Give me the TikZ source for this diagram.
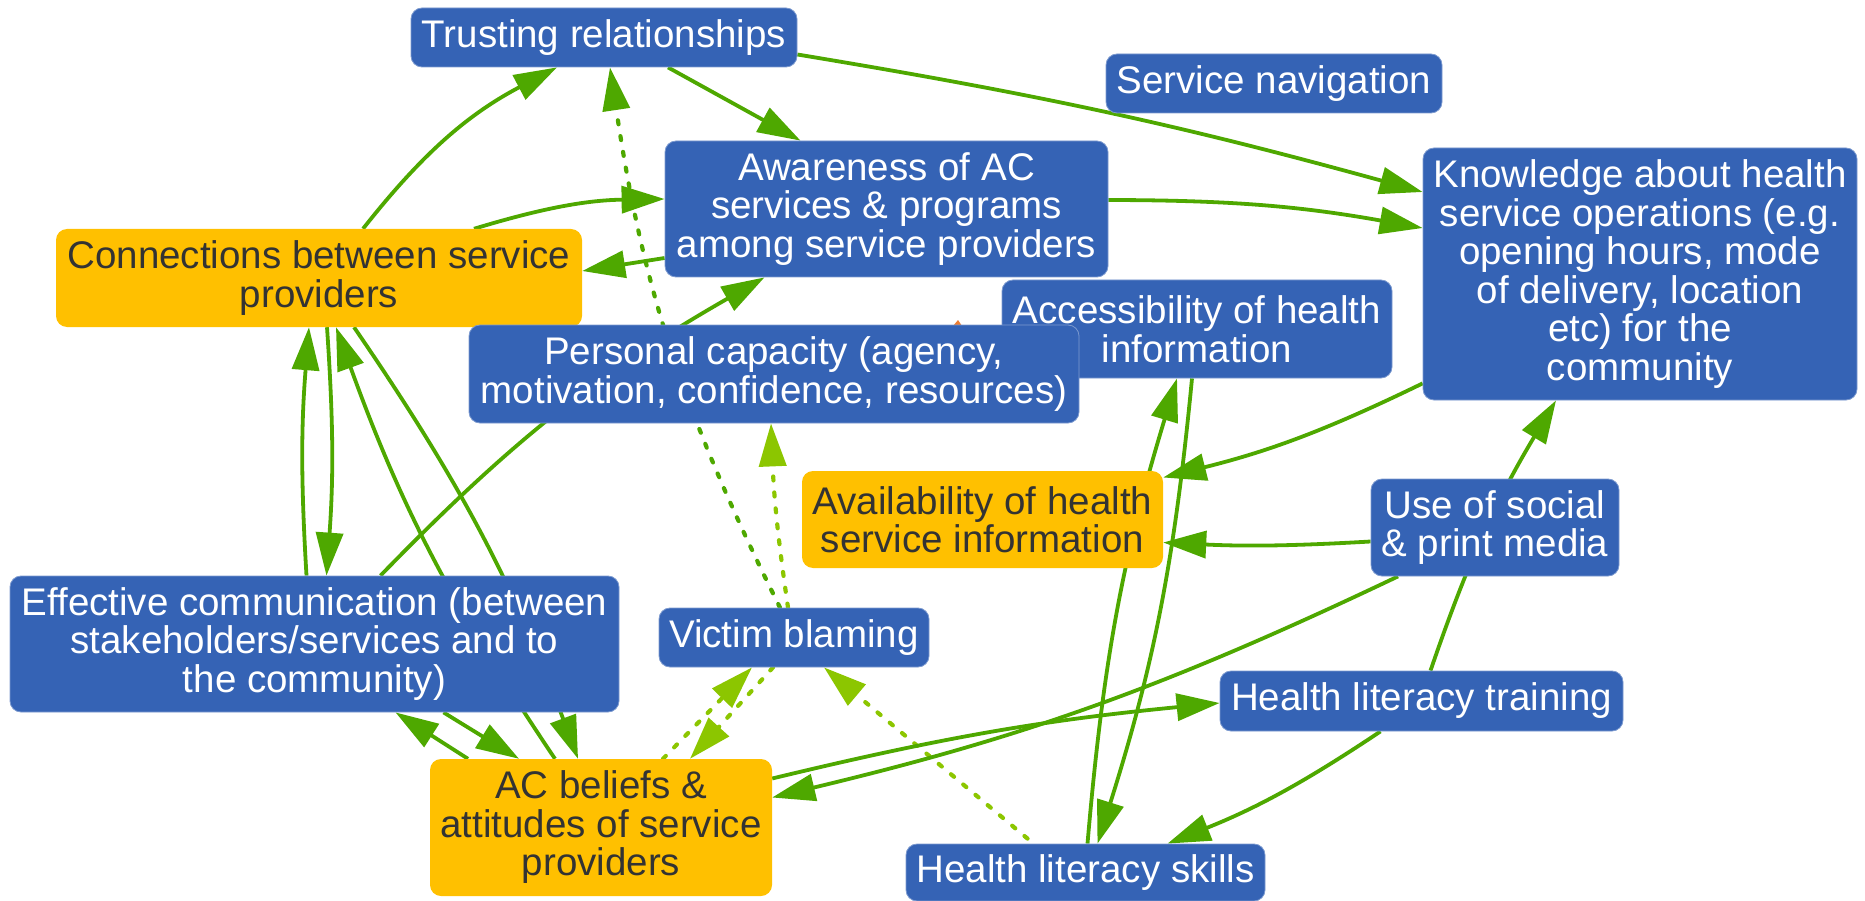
\documentclass[tikz,border=0pt]{standalone}
\usepackage{fontspec}
\setmainfont{Liberation Sans}
\usetikzlibrary{arrows.meta,backgrounds}
\definecolor{boxblue}{RGB}{53,99,181}
\definecolor{boxorange}{RGB}{255,192,0}
\definecolor{textdark}{RGB}{51,51,51}
\definecolor{greendark}{RGB}{78,168,0}
\definecolor{greenlight}{RGB}{140,198,0}
\definecolor{markorange}{RGB}{237,125,49}
\begin{document}
\begin{tikzpicture}[x=1pt,y=-1pt,
  box/.style={rounded corners=11pt, inner sep=0pt, align=center,
    font=\fontsize{38.5}{38.5}\selectfont},
  bluebox/.style={box, fill=boxblue, draw=boxblue!65!white, line width=0.8pt, text=white},
  orangebox/.style={box, fill=boxorange, text=textdark},
  arr/.style={draw=greendark, line width=3.8pt, -{Triangle[length=43pt,width=27pt]}},
  arrdash/.style={arr, line width=4.2pt, dash pattern=on 4pt off 12pt, line cap=round},
  arrlight/.style={arrdash, draw=greenlight},
]
\useasboundingbox (0,0) rectangle (1865,901);

% nodes
\node[bluebox, minimum width=386pt, minimum height=59pt] (trust) at (604,37.5) {Trusting relationships};
\node[bluebox, minimum width=336pt, minimum height=59pt] (nav) at (1274,83.5) {Service navigation};
\node[bluebox, minimum width=443pt, minimum height=136pt] (aware) at (886.5,209) {Awareness of AC\\services \& programs\\among service providers};
\node[bluebox, minimum width=434pt, minimum height=252pt] (know) at (1640,274) {Knowledge about health\\service operations (e.g.\\opening hours, mode\\of delivery, location\\etc) for the\\community};
\node[orangebox, minimum width=526pt, minimum height=98pt] (conn) at (319,278) {Connections between service\\providers};
\node[bluebox, minimum width=390pt, minimum height=98pt] (access) at (1197,329) {Accessibility of health\\information};
\node[bluebox, minimum width=610pt, minimum height=98pt] (pers) at (774,374) {Personal capacity (agency,\\motivation, confidence, resources)};
\node[orangebox, minimum width=361pt, minimum height=97pt] (avail) at (982.5,519.5) {Availability of health\\service information};
\node[bluebox, minimum width=248pt, minimum height=97pt] (social) at (1495,527.5) {Use of social\\\& print media};
\node[bluebox, minimum width=609pt, minimum height=136pt] (eff) at (314.5,644) {Effective communication (between\\stakeholders/services and to\\the community)};
\node[bluebox, minimum width=270pt, minimum height=59pt] (victim) at (794,637.5) {Victim blaming};
\node[bluebox, minimum width=403pt, minimum height=60pt] (train) at (1421.5,701) {Health literacy training};
\node[orangebox, minimum width=342pt, minimum height=137pt] (beliefs) at (601,827.5) {AC beliefs \&\\attitudes of service\\providers};
\node[bluebox, minimum width=359pt, minimum height=57pt] (skills) at (1085.5,872.5) {Health literacy skills};

% connectors
\begin{scope}[on background layer]
\fill[markorange] (953,326) -- (962,326) -- (958,320) -- cycle;
\draw[arr] ([xshift=44pt]conn.north) to[bend left=12] ([xshift=-47pt]trust.south);
\draw[arr] ([xshift=64pt]trust.south) -- ([xshift=-86pt]aware.north);
\draw[arr] ([yshift=-17pt]trust.east) to[bend left=3] ([yshift=82pt]know.west);
\draw[arr] ([yshift=9pt]aware.east) to[bend left=5] ([yshift=46pt]know.west);
\draw[arr] ([xshift=155pt]conn.north) to[bend left=8] ([yshift=10pt]aware.west);
\draw[arr] ([yshift=-49pt]aware.west) -- ([yshift=7pt]conn.east);
\draw[arrdash] ([xshift=-14pt]victim.north) to[bend left=9] ([xshift=6pt]trust.south);
\draw[arrlight] ([xshift=-6pt]victim.north) to[bend left=3] ([xshift=-3pt]pers.south);
\draw[arrlight] ([xshift=62pt]beliefs.north) -- ([xshift=-42pt]victim.south);
\draw[arrlight] ([xshift=-21pt]victim.south) -- ([xshift=89pt]beliefs.north);
\draw[arrlight] ([xshift=-58pt,yshift=5pt]skills.north) -- ([xshift=30pt]victim.south);
\draw[arr] ([xshift=-8pt]eff.north) to[bend left=4] ([xshift=-10pt]conn.south);
\draw[arr] ([xshift=8pt]conn.south) to[bend left=4] ([xshift=12pt]eff.north);
\draw[arr] ([xshift=-46pt]beliefs.north) to[bend left=7] ([xshift=17pt]conn.south);
\draw[arr] ([xshift=35pt]conn.south) to[bend left=7] ([xshift=-23pt]beliefs.north);
\draw[arr] ([xshift=-133pt]beliefs.north) -- ([xshift=81pt]eff.south);
\draw[arr] ([xshift=129pt]eff.south) -- ([xshift=-82pt]beliefs.north);
\draw[arr] ([xshift=66pt]eff.north) to[bend left=8] ([xshift=-122pt]aware.south);
\draw[arr] ([yshift=17pt]know.south west) to[bend left=6] ([yshift=42pt]avail.east);
\draw[arr] ([xshift=2pt]skills.north) to[bend left=6] ([xshift=-20pt]access.south);
\draw[arr] ([xshift=-5pt]access.south) to[bend left=6] ([xshift=12pt]skills.north);
\draw[arr] ([yshift=-14pt]social.west) to[bend left=3] ([yshift=-23pt]avail.east);
\draw[arr] ([xshift=9pt]train.north) to[bend left=6] ([xshift=-84pt]know.south);
\draw[arr] ([xshift=-41pt]train.south) to[bend left=6] ([xshift=82pt]skills.north);
\draw[arr] ([yshift=49pt]beliefs.east) to[bend left=4] ([yshift=-2pt]train.west);
\draw[arr] ([xshift=-97pt]social.south) to[bend left=6] ([yshift=30pt]beliefs.east);
\end{scope}
\end{tikzpicture}
\end{document}
